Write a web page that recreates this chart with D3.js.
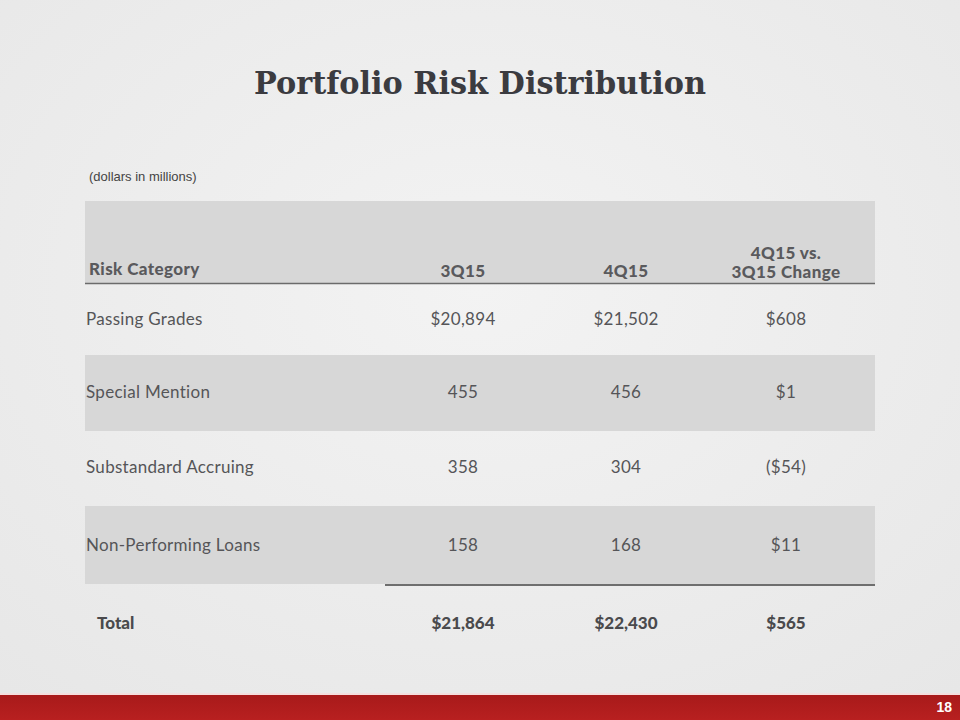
<!DOCTYPE html>
<html><head><meta charset="utf-8">
<script src="https://cdn.jsdelivr.net/npm/d3@7"></script>
<style>body{margin:0;background:#ebebeb;}svg{display:block;}</style>
</head><body>
<script>
const title = "Portfolio Risk Distribution";
const subtitle = "(dollars in millions)";
const headers = ["Risk Category", "3Q15", "4Q15", ["4Q15 vs.", "3Q15 Change"]];
const categories = ["Passing Grades", "Special Mention", "Substandard Accruing", "Non-Performing Loans"];
const q3 = ["$20,894", "455", "358", "158"];
const q4 = ["$21,502", "456", "304", "168"];
const change = ["$608", "$1", "($54)", "$11"];
const totals = ["Total", "$21,864", "$22,430", "$565"];
const pageNum = "18";

const W = 960, H = 720;
const svg = d3.select("body").append("svg").attr("width", W).attr("height", H);

const defs = svg.append("defs");
const g1 = defs.append("radialGradient").attr("id","bg").attr("cx","50%").attr("cy","40%").attr("r","75%");
g1.append("stop").attr("offset","0%").attr("stop-color","#f3f3f3");
g1.append("stop").attr("offset","100%").attr("stop-color","#e7e7e7");
svg.append("rect").attr("width",W).attr("height",H).attr("fill","url(#bg)");

const cols = ["cat","q3","q4","chg"];
const xc = d3.scaleOrdinal().domain(cols).range([86, 463, 626, 786]);
const rowY = d3.scaleOrdinal().domain(d3.range(4)).range([319, 392, 467, 545]);
const bandTop = [null, 355, null, 506], bandBot = [null, 431, null, 584];
const left = 85, right = 875;

const font = "Lato, 'Open Sans', sans-serif";
const txt = "#555558";

svg.append("text").attr("x", 480).attr("y", 94).attr("text-anchor","middle")
  .attr("font-family","'DejaVu Serif', serif").attr("font-weight","bold")
  .attr("font-size", 31).attr("fill","#3b3b40").attr("textLength", 452).attr("lengthAdjust","spacingAndGlyphs")
  .text(title);

svg.append("text").attr("x", 89).attr("y", 181).attr("font-family","'Liberation Sans', Arial, sans-serif")
  .attr("font-size", 13).attr("fill","#444").text(subtitle);

svg.append("rect").attr("x", left).attr("y", 201).attr("width", right-left).attr("height", 82).attr("fill","#d7d7d7");
svg.append("line").attr("x1", left).attr("x2", right).attr("y1", 283.5).attr("y2", 283.5).attr("stroke","#6b6b6b").attr("stroke-width",1.5);

const hdr = svg.append("g").attr("font-family", font).attr("font-weight","900").attr("font-size",17).attr("letter-spacing",0.4).attr("fill","#5a5a5d");
hdr.append("text").attr("x", 89).attr("y", 275).text(headers[0]);
hdr.append("text").attr("x", xc("q3")).attr("y", 277).attr("text-anchor","middle").text(headers[1]);
hdr.append("text").attr("x", xc("q4")).attr("y", 277).attr("text-anchor","middle").text(headers[2]);
headers[3].forEach((t,i)=> hdr.append("text").attr("x", xc("chg")).attr("y", 259 + i*19).attr("text-anchor","middle").text(t));

categories.forEach((c,i)=>{
  if (bandTop[i] !== null) svg.append("rect").attr("x", left).attr("y", bandTop[i]).attr("width", right-left).attr("height", bandBot[i]-bandTop[i]).attr("fill","#d7d7d7");
});

const body = svg.append("g").attr("font-family", font).attr("font-size",17).attr("letter-spacing",0.3).attr("fill",txt);
categories.forEach((c,i)=>{
  const y = rowY(i) + 6;
  body.append("text").attr("x", xc("cat")).attr("y", y).text(c);
  body.append("text").attr("x", xc("q3")).attr("y", y).attr("text-anchor","middle").text(q3[i]);
  body.append("text").attr("x", xc("q4")).attr("y", y).attr("text-anchor","middle").text(q4[i]);
  body.append("text").attr("x", xc("chg")).attr("y", y).attr("text-anchor","middle").text(change[i]);
});

svg.append("line").attr("x1", 385).attr("x2", right).attr("y1", 585).attr("y2", 585).attr("stroke","#444").attr("stroke-width",1.5);

const tot = svg.append("g").attr("font-family", font).attr("font-weight","900").attr("font-size",17).attr("fill","#4a4a4d");
tot.append("text").attr("x", 97).attr("y", 629).text(totals[0]);
tot.append("text").attr("x", xc("q3")).attr("y", 629).attr("text-anchor","middle").text(totals[1]);
tot.append("text").attr("x", xc("q4")).attr("y", 629).attr("text-anchor","middle").text(totals[2]);
tot.append("text").attr("x", xc("chg")).attr("y", 629).attr("text-anchor","middle").text(totals[3]);

svg.append("rect").attr("x",0).attr("y",693).attr("width",W).attr("height",2).attr("fill","#f4dede");
const g2 = defs.append("linearGradient").attr("id","red").attr("x1",0).attr("x2",0).attr("y1",0).attr("y2",1);
g2.append("stop").attr("offset","0%").attr("stop-color","#a81a1a");
g2.append("stop").attr("offset","100%").attr("stop-color","#b82020");
svg.append("rect").attr("x",0).attr("y",695).attr("width",W).attr("height",25).attr("fill","url(#red)");
svg.append("text").attr("x", 952).attr("y", 712).attr("text-anchor","end").attr("font-family","'Liberation Sans', Arial, sans-serif")
  .attr("font-weight","bold").attr("font-size",14).attr("fill","#fff").text(pageNum);
</script>
</body></html>
